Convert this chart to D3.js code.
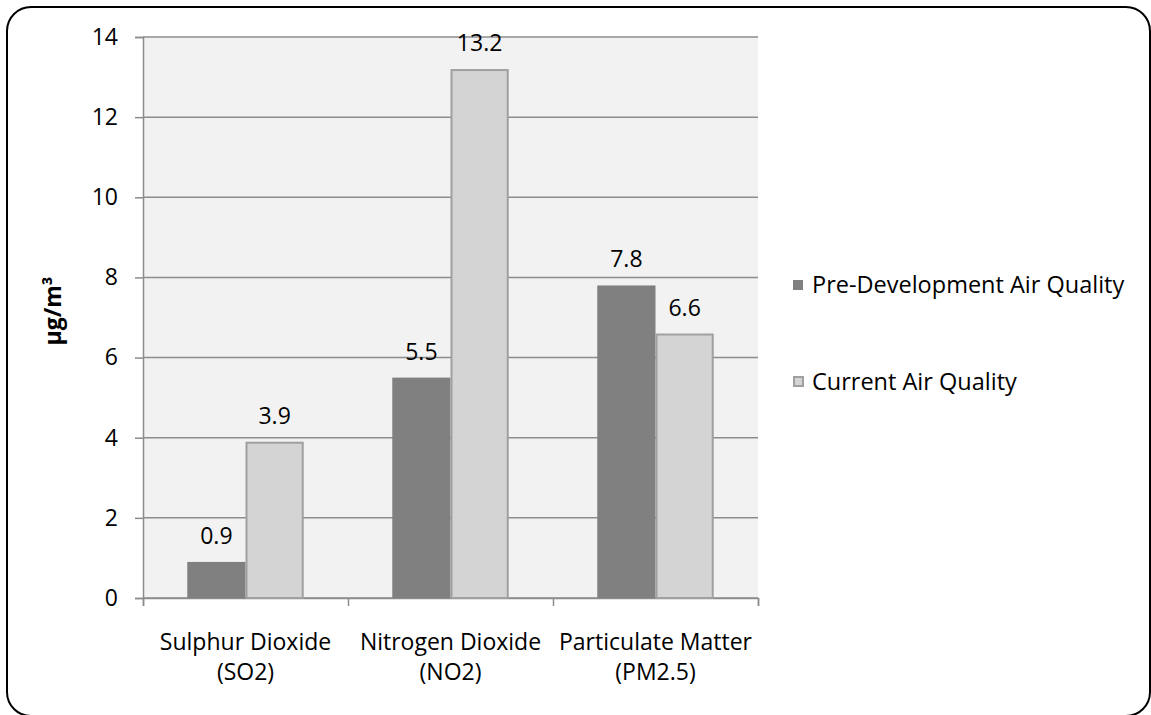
<!DOCTYPE html>
<html><head><meta charset="utf-8">
<script src="https://cdn.jsdelivr.net/npm/d3@7"></script>
<style>body{margin:0;background:#fff;overflow:hidden;} text{font-family:"Open Sans",sans-serif;}</style>
</head><body>
<svg id="c" width="1151" height="715"></svg>
<script>
const categories = [["Sulphur Dioxide","(SO2)"],["Nitrogen Dioxide","(NO2)"],["Particulate Matter","(PM2.5)"]];
const seriesNames = ["Pre-Development Air Quality","Current Air Quality"];
const preValues = [0.9, 5.5, 7.8];
const currentValues = [3.9, 13.2, 6.6];
const yTicks = [0,2,4,6,8,10,12,14];

(function(){
const svg = d3.select("#c");
const pLeft=143, pRight=758, pTop=37, pBottom=598;
const FS=23;
svg.append("rect").attr("x",7).attr("y",7).attr("width",1143).attr("height",709)
  .attr("rx",24).attr("fill","#fff").attr("stroke","#000").attr("stroke-width",2);

const x = d3.scaleBand().domain(d3.range(categories.length)).range([pLeft,pRight]);
const xs = d3.scaleBand().domain([0,1]).range([0,x.bandwidth()]).paddingOuter(0.76).paddingInner(0);
const y = d3.scaleLinear().domain([0,14]).range([pBottom,pTop]);

svg.append("rect").attr("x",pLeft).attr("y",pTop).attr("width",pRight-pLeft).attr("height",pBottom-pTop).attr("fill","#f2f2f2");
svg.selectAll(".grid").data(yTicks).join("line").attr("x1",pLeft).attr("x2",pRight)
  .attr("y1",d=>y(d)).attr("y2",d=>y(d)).attr("stroke","#8c8c8c").attr("stroke-width",1.5);

const yAxis = svg.append("g").attr("transform",`translate(${pLeft},0)`)
  .call(d3.axisLeft(y).tickValues(yTicks).tickSize(8).tickPadding(17).tickFormat(d3.format("d")));
yAxis.select(".domain").attr("stroke","#8c8c8c").attr("stroke-width",1.5);
yAxis.selectAll(".tick line").attr("stroke","#8c8c8c").attr("stroke-width",1.5);
yAxis.selectAll("text").attr("font-size",FS).attr("fill","#000").attr("font-family","Open Sans");

const xAxis = svg.append("g").attr("transform",`translate(0,${pBottom})`)
  .call(d3.axisBottom(d3.scaleLinear().domain([0,3]).range([pLeft,pRight])).tickValues([0,1,2,3]).tickSize(8).tickFormat(""));
xAxis.select(".domain").attr("stroke","#8c8c8c").attr("stroke-width",1.5);
xAxis.selectAll(".tick line").attr("stroke","#8c8c8c").attr("stroke-width",1.5);

const vals=[preValues,currentValues];
const fills=["#808080","#d4d4d4"];
vals.forEach((arr,s)=>{
  const g=svg.append("g");
  g.selectAll("rect").data(arr).join("rect")
    .attr("x",(d,i)=>x(i)+xs(s)+(s?1:0)).attr("y",d=>y(d)+(s?1:0))
    .attr("width",xs.bandwidth()-(s?2:0)).attr("height",d=>pBottom-y(d)-(s?1:0))
    .attr("fill",fills[s]).attr("stroke",s?"#a0a0a0":"none").attr("stroke-width",2);
  g.selectAll("text").data(arr).join("text")
    .attr("x",(d,i)=>x(i)+xs(s)+xs.bandwidth()/2).attr("y",d=>y(d)-18)
    .attr("text-anchor","middle").attr("font-size",FS).text(d=>d3.format(".1f")(d));
});

categories.forEach((c,i)=>{
  const cx=x(i)+x.bandwidth()/2;
  const t=svg.append("text").attr("x",cx).attr("y",650).attr("text-anchor","middle").attr("font-size",FS);
  t.append("tspan").attr("x",cx).text(c[0]);
  t.append("tspan").attr("x",cx).attr("dy",30).text(c[1]);
});

svg.append("text").attr("transform","translate(61,311) rotate(-90)").attr("text-anchor","middle")
  .attr("font-size",23).attr("font-weight","bold").text("μg/m³");

const ly=[285,382];
seriesNames.forEach((n,s)=>{
  svg.append("rect").attr("x",s?794:793).attr("y",ly[s]-5).attr("width",s?9:10).attr("height",s?9:10)
    .attr("fill",fills[s]).attr("stroke",s?"#a0a0a0":"none").attr("stroke-width",2);
  svg.append("text").attr("x",812).attr("y",ly[s]+8).attr("font-size",23.5).text(n);
});
})();
</script>
</body></html>
